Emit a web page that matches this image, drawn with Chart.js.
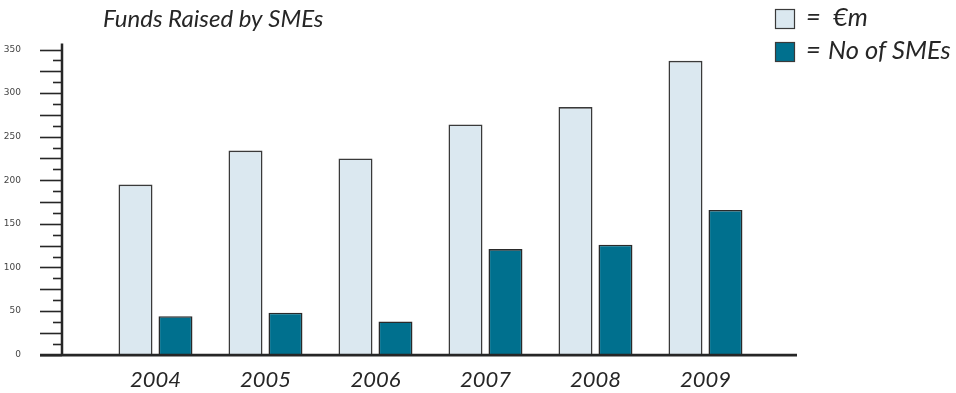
<!DOCTYPE html>
<html><head><meta charset="utf-8">
<script src="https://cdn.jsdelivr.net/npm/chart.js@4"></script>
<style>html,body{margin:0;padding:0;background:#fff}canvas{display:block}</style>
</head><body>
<canvas id="c" width="956" height="393"></canvas>
<script>
const years = ['2004', '2005', '2006', '2007', '2008', '2009'];
const euroM = [195, 234, 225, 264, 284, 337];
const smeCount = [44, 48, 38, 121, 126, 166];
const yLabelStep = 50;
const yMinorStep = 12.5;
const yMax = 350;
const titleText = 'Funds Raised by SMEs';
const seriesNames = ['€m', 'No of SMEs'];

const lightColor = '#dbe8f0';
const darkColor = '#00708e';
const ink = '#262626';

const decor = {
  id: 'decor',
  afterDraw(chart) {
    const ctx = chart.ctx;
    const y = chart.scales.y;
    const area = chart.chartArea;
    ctx.save();
    ctx.strokeStyle = ink;
    ctx.lineWidth = 1.6;
    for (let v = 0; v <= yMax + 0.001; v += yMinorStep) {
      const py = Math.round(y.getPixelForValue(v)) + 0.5;
      const long = Math.abs(v / 25 - Math.round(v / 25)) < 1e-6;
      ctx.beginPath();
      ctx.moveTo(long ? area.left - 22 : area.left - 9, py);
      ctx.lineTo(area.left, py);
      ctx.stroke();
    }
    ctx.lineWidth = 2.5;
    ctx.beginPath();
    ctx.moveTo(area.left, area.top - 6);
    ctx.lineTo(area.left, area.bottom + 1);
    ctx.stroke();
    ctx.lineWidth = 2.8;
    ctx.beginPath();
    ctx.moveTo(area.left - 22, area.bottom + 0.5);
    ctx.lineTo(area.right, area.bottom + 0.5);
    ctx.stroke();

    ctx.fillStyle = ink;
    ctx.textBaseline = 'alphabetic';
    ctx.textAlign = 'left';
    ctx.font = 'italic 24px Lato';
    ctx.fillText(titleText, 103, 27);

    const boxes = [[lightColor, 9, 26, 833], [darkColor, 42, 59, 828]];
    boxes.forEach(([col, by, base, nx], i) => {
      ctx.fillStyle = col;
      ctx.fillRect(775, by, 20, 20);
      ctx.strokeStyle = '#3a3a3a';
      ctx.lineWidth = 1.2;
      ctx.strokeRect(775.5, by + 0.5, 19, 19);
      ctx.fillStyle = ink;
      ctx.font = 'italic 25.5px Lato';
      ctx.fillText('=', 806, base);
      ctx.fillText(seriesNames[i], nx, base);
    });
    ctx.restore();
  }
};

new Chart(document.getElementById('c'), {
  type: 'bar',
  data: {
    datasets: [
      {
        label: '€m',
        data: years.map((_, i) => ({ x: i, y: euroM[i] })),
        backgroundColor: lightColor,
        borderColor: '#3a3a3a',
        borderWidth: 1.6
      },
      {
        label: 'No of SMEs',
        data: years.map((_, i) => ({ x: i, y: smeCount[i] })),
        backgroundColor: darkColor,
        borderColor: '#2a2a2a',
        borderWidth: 1.6
      }
    ]
  },
  options: {
    responsive: false,
    animation: false,
    devicePixelRatio: 1,
    categoryPercentage: 0.727,
    barPercentage: 0.85,
    layout: { padding: { top: 49.5, right: 159, left: 0, bottom: 0 } },
    plugins: { legend: { display: false }, tooltip: { enabled: false }, title: { display: false } },
    scales: {
      x: {
        type: 'linear',
        offset: false,
        min: -0.85,
        max: 5.832,
        afterBuildTicks: s => { s.ticks = years.map((_, i) => ({ value: i })); },
        afterFit: s => { s.height = 34; },
        grid: { display: false, offset: false },
        border: { display: false },
        ticks: {
          autoSkip: false,
          maxRotation: 0,
          padding: 4,
          color: ink,
          font: { family: 'Lato', size: 22, style: 'italic' },
          callback: v => years[v]
        }
      },
      y: {
        min: 0,
        max: yMax,
        afterFit: s => { s.width = 62; },
        grid: { display: false },
        border: { display: false },
        ticks: {
          stepSize: yLabelStep,
          padding: 33,
          color: '#444',
          font: { family: 'DejaVu Sans', size: 9 }
        }
      }
    }
  },
  plugins: [decor]
});
</script>
</body></html>
